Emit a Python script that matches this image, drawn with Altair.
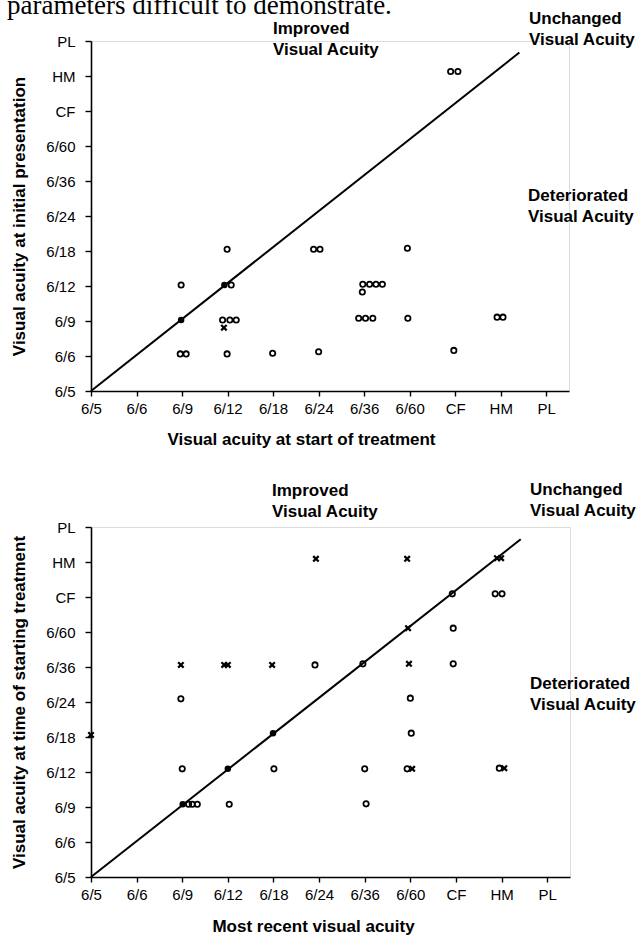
import altair as alt
import pandas as pd

FONT = "Liberation Sans"
SERIF = "Liberation Serif"

# Ordinal visual-acuity scale (index 0..10)
acuity_labels = ["6/5", "6/6", "6/9", "6/12", "6/18", "6/24", "6/36", "6/60", "CF", "HM", "PL"]

header_text = "parameters difficult to demonstrate."
improved_text = ["Improved", "Visual Acuity"]
unchanged_text = ["Unchanged", "Visual Acuity"]
deteriorated_text = ["Deteriorated", "Visual Acuity"]

# ---- Top panel: start of treatment (x) vs initial presentation (y), in scale steps
top_open_x = [1.98, 1.96, 2.09, 2.99, 3.08, 2.89, 3.05, 3.19, 2.99, 3.99, 5.00, 4.89, 5.03,
              6.95, 5.97, 6.12, 6.26, 6.40, 5.96, 5.88, 6.03, 6.19, 6.96, 8.92, 9.05, 7.97,
              7.90, 8.06]
top_open_y = [3.03, 1.06, 1.06, 4.05, 3.03, 2.03, 2.03, 2.03, 1.06, 1.08, 1.12, 4.05, 4.05,
              4.08, 3.05, 3.05, 3.05, 3.05, 2.83, 2.08, 2.08, 2.08, 2.08, 2.11, 2.11, 1.16,
              9.13, 9.13]
top_cross_x = [2.92]
top_cross_y = [1.81]
top_filled_x = [1.98, 2.93]
top_filled_y = [2.03, 3.03]
top_line_x = [0, 9.41]
top_line_y = [0, 9.67]

# ---- Bottom panel: most recent (x) vs time of starting treatment (y)
bot_open_x = [4.91, 5.96, 7.94, 7.92, 8.86, 9.01, 7.94, 7.00, 1.97, 2.00, 4.01, 2.14, 2.22,
              2.33, 3.03, 7.02, 6.93, 6.00, 6.03, 8.95]
bot_open_y = [6.06, 6.09, 6.09, 8.09, 8.09, 8.09, 7.11, 5.11, 5.09, 3.09, 3.09, 2.08, 2.08,
              2.08, 2.08, 4.11, 3.09, 3.09, 2.09, 3.11]
bot_cross_x = [1.97, 2.92, 3.00, 3.97, 4.93, 6.93, 8.90, 8.99, 6.95, 6.97, 0.00, 7.04, 9.06]
bot_cross_y = [6.06, 6.06, 6.06, 6.06, 9.09, 9.09, 9.11, 9.11, 7.11, 6.09, 4.06, 3.09, 3.11]
bot_filled_x = [3.00, 3.99, 2.01]
bot_filled_y = [3.09, 4.11, 2.08]
bot_line_x = [0, 9.42]
bot_line_y = [0, 9.65]

label_expr = "[" + ",".join("'" + s + "'" for s in acuity_labels) + "][datum.value]"
CROSS = "M-1,-1L1,1M1,-1L-1,1"


def make_panel(open_xy, cross_xy, filled_xy, line_xy, x_title, y_title,
               title_x, title_y, width, height, ann, header=False):
    def X():
        return alt.X("x:Q", title=x_title,
                     scale=alt.Scale(domain=[0, 10.5], nice=False, zero=False),
                     axis=alt.Axis(values=list(range(11)), labelExpr=label_expr, grid=False,
                                   domainColor="black", domainWidth=1.6, tickColor="black",
                                   tickWidth=1.4, tickSize=5, labelPadding=5, labelFont=FONT,
                                   labelFontSize=15, labelColor="black", labelAngle=0,
                                   labelOverlap=False, labelFlush=False, titleFont=FONT,
                                   titleFontSize=17, titleFontWeight="bold", titleColor="black",
                                   titleX=title_x, titleY=title_y, titleAlign="center",
                                   titleBaseline="alphabetic"))

    def Y():
        return alt.Y("y:Q", title=y_title,
                     scale=alt.Scale(domain=[0, 10], nice=False, zero=False),
                     axis=alt.Axis(values=list(range(11)), labelExpr=label_expr, grid=False,
                                   domainColor="black", domainWidth=1.6, tickColor="black",
                                   tickWidth=1.4, tickSize=6, labelPadding=10, labelFont=FONT,
                                   labelFontSize=15, labelColor="black", labelOverlap=False,
                                   labelFlush=False, titleFont=FONT, titleFontSize=17,
                                   titleFontWeight="bold", titleColor="black", titlePadding=17))

    line = alt.Chart(pd.DataFrame({"x": line_xy[0], "y": line_xy[1]})).mark_line(
        color="black", strokeWidth=2).encode(x=X(), y=Y())
    opens = alt.Chart(pd.DataFrame({"x": open_xy[0], "y": open_xy[1]})).mark_point(
        shape="circle", filled=False, color="black", size=28, strokeWidth=1.8,
        opacity=1).encode(x=X(), y=Y())
    crosses = alt.Chart(pd.DataFrame({"x": cross_xy[0], "y": cross_xy[1]})).mark_point(
        shape=CROSS, filled=False, color="black", size=30, strokeWidth=2.2,
        opacity=1).encode(x=X(), y=Y())
    filled = alt.Chart(pd.DataFrame({"x": filled_xy[0], "y": filled_xy[1]})).mark_point(
        shape="circle", filled=True, color="black", size=42, opacity=1).encode(x=X(), y=Y())

    one = pd.DataFrame({"a": [0]})
    layers = [line, opens, crosses, filled]
    for txt, px, py in ann:
        layers.append(alt.Chart(one).mark_text(
            align="left", baseline="alphabetic", font=FONT, fontSize=17, fontWeight="bold",
            lineHeight=21, color="black").encode(
            x=alt.value(px), y=alt.value(py), text=alt.value(txt)))
    if header:
        layers.append(alt.Chart(one).mark_text(
            align="left", baseline="alphabetic", font=SERIF, fontSize=27,
            color="black").encode(x=alt.value(-84), y=alt.value(-27),
                                  text=alt.value(header_text)))
    return alt.layer(*layers).properties(width=width, height=height)


top = make_panel((top_open_x, top_open_y), (top_cross_x, top_cross_y),
                 (top_filled_x, top_filled_y), (top_line_x, top_line_y),
                 "Visual acuity at start of treatment", "Visual acuity at initial presentation",
                 210, 53, 478, 350,
                 [(improved_text, 182, -7), (unchanged_text, 438, -17),
                  (deteriorated_text, 437, 160)],
                 header=True)

bottom = make_panel((bot_open_x, bot_open_y), (bot_cross_x, bot_cross_y),
                    (bot_filled_x, bot_filled_y), (bot_line_x, bot_line_y),
                    "Most recent visual acuity", "Visual acuity at time of starting treatment",
                    222, 54, 479, 350,
                    [(improved_text, 181, -31), (unchanged_text, 439, -32),
                     (deteriorated_text, 439, 162)])

chart = alt.vconcat(top, bottom, spacing=136, bounds="flush").properties(
    padding={"left": 6, "top": -9, "right": 2, "bottom": 2}
).configure_view(stroke=None).configure(background="white")

chart.save("out.html", embed_options={"renderer": "svg", "actions": False})
